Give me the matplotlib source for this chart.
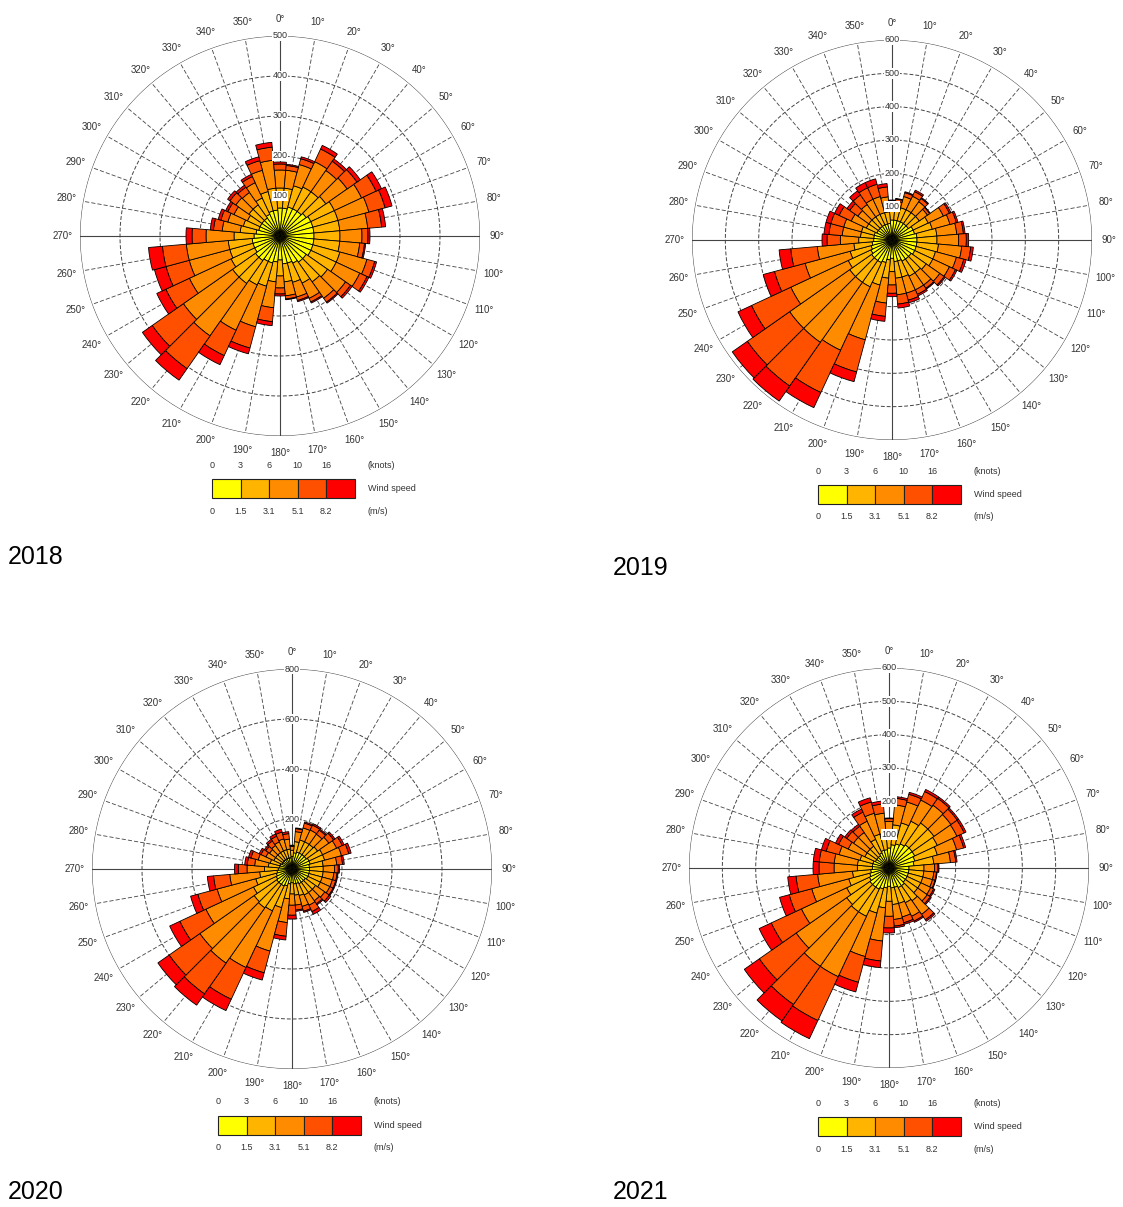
import numpy as np
import matplotlib.pyplot as plt
from matplotlib.patches import Rectangle

plt.rcParams['font.family'] = ['Liberation Sans', 'DejaVu Sans']

W, H = 1123, 1207

# wind direction bins (deg, clockwise from north)
directions = np.arange(0, 360, 10)

speed_colors = ['#FFFF00', '#FFB400', '#FF8C00', '#FF5000', '#FF0000']
knots_labels = ['0', '3', '6', '10', '16']
ms_labels = ['0', '1.5', '3.1', '5.1', '8.2']

# counts per direction, speed class 1 (calm) .. 5 (strongest)
y2018_c1 = [70, 70, 75, 75, 75, 80, 85, 85, 85, 85, 85, 85, 85, 80, 80, 75, 70, 70,
            60, 65, 70, 70, 75, 75, 70, 70, 70, 65, 60, 55, 55, 55, 55, 60, 65, 65]
y2018_c2 = [50, 50, 55, 60, 60, 60, 65, 65, 65, 65, 65, 70, 70, 65, 60, 55, 50, 45,
            40, 50, 60, 65, 70, 70, 65, 60, 60, 50, 40, 40, 35, 40, 40, 45, 50, 55]
y2018_c3 = [45, 45, 55, 70, 65, 65, 75, 80, 70, 55, 50, 70, 65, 55, 50, 42, 38, 35,
            30, 65, 105, 125, 160, 150, 115, 105, 105, 70, 45, 40, 37, 40, 38, 42, 55, 70]
y2018_c4 = [15, 12, 15, 35, 28, 30, 40, 42, 35, 15, 12, 20, 20, 15, 12, 10, 9, 8,
            15, 35, 55, 70, 100, 95, 65, 60, 60, 35, 22, 18, 17, 18, 16, 17, 25, 33]
y2018_c5 = [5, 3, 5, 10, 7, 10, 15, 18, 10, 5, 3, 5, 5, 5, 3, 3, 3, 2,
            5, 10, 15, 25, 35, 30, 25, 30, 35, 15, 8, 7, 6, 7, 6, 6, 10, 12]

y2019_c1 = [60, 60, 60, 60, 60, 60, 70, 70, 75, 75, 75, 75, 75, 70, 70, 70, 65, 65,
            55, 60, 70, 75, 75, 75, 70, 65, 60, 55, 55, 55, 50, 50, 50, 50, 50, 50]
y2019_c2 = [35, 35, 40, 40, 40, 40, 50, 55, 60, 60, 65, 60, 60, 55, 50, 50, 50, 50,
            40, 55, 70, 80, 80, 80, 75, 65, 55, 45, 40, 40, 35, 35, 35, 35, 35, 35]
y2019_c3 = [18, 22, 35, 45, 40, 30, 50, 55, 60, 65, 70, 65, 55, 50, 45, 45, 50, 50,
            40, 75, 170, 210, 220, 220, 190, 140, 110, 55, 55, 55, 50, 40, 45, 50, 50, 45]
y2019_c4 = [5, 6, 12, 15, 12, 8, 20, 20, 20, 23, 27, 23, 20, 16, 12, 15, 22, 28,
            25, 40, 100, 140, 160, 155, 130, 95, 80, 40, 40, 40, 40, 30, 35, 38, 38, 30]
y2019_c5 = [2, 2, 3, 5, 3, 2, 5, 5, 5, 7, 8, 7, 5, 4, 3, 5, 8, 12,
            10, 15, 30, 50, 55, 55, 45, 35, 35, 15, 15, 15, 15, 10, 15, 17, 17, 10]

y2020_c1 = [50, 65, 70, 70, 70, 70, 75, 75, 70, 70, 70, 70, 70, 65, 65, 65, 60, 60,
            55, 60, 70, 75, 75, 75, 70, 65, 60, 55, 50, 50, 45, 45, 45, 45, 45, 45]
y2020_c2 = [25, 45, 50, 50, 50, 55, 60, 60, 55, 55, 55, 55, 55, 50, 50, 50, 50, 45,
            45, 60, 90, 110, 115, 110, 100, 85, 70, 55, 45, 40, 35, 35, 35, 35, 35, 35]
y2020_c3 = [15, 40, 50, 52, 50, 55, 62, 70, 55, 45, 43, 42, 42, 45, 40, 45, 45, 40,
            45, 95, 180, 250, 270, 265, 210, 160, 120, 70, 55, 50, 35, 30, 35, 40, 45, 40]
y2020_c4 = [4, 12, 20, 22, 20, 23, 25, 30, 23, 15, 13, 14, 14, 22, 15, 28, 20, 20,
            40, 55, 90, 140, 150, 150, 115, 80, 65, 35, 30, 30, 22, 18, 22, 25, 28, 22]
y2020_c5 = [1, 3, 5, 6, 5, 7, 8, 10, 7, 5, 4, 4, 4, 8, 5, 12, 5, 5,
            15, 15, 30, 50, 55, 55, 45, 30, 25, 15, 10, 10, 8, 7, 8, 10, 12, 8]

y2021_c1 = [60, 70, 75, 80, 85, 85, 85, 80, 75, 60, 60, 60, 60, 60, 65, 65, 60, 60,
            55, 60, 65, 70, 70, 70, 65, 60, 55, 50, 50, 50, 45, 45, 45, 50, 55, 55]
y2021_c2 = [45, 60, 65, 75, 80, 80, 75, 70, 60, 45, 45, 45, 45, 45, 55, 50, 50, 50,
            45, 60, 75, 90, 90, 85, 75, 65, 55, 45, 45, 40, 35, 35, 35, 45, 50, 50]
y2021_c3 = [35, 60, 65, 70, 65, 62, 65, 60, 50, 32, 30, 30, 33, 35, 50, 45, 42, 45,
            45, 100, 135, 200, 200, 185, 150, 115, 105, 70, 70, 65, 55, 50, 50, 60, 65, 60]
y2021_c4 = [8, 20, 24, 28, 25, 23, 24, 22, 16, 10, 8, 8, 10, 11, 20, 16, 18, 20,
            35, 60, 80, 145, 140, 135, 100, 70, 65, 45, 45, 40, 32, 25, 23, 30, 35, 28]
y2021_c5 = [2, 5, 6, 7, 5, 5, 6, 6, 4, 3, 2, 2, 4, 4, 5, 4, 5, 5,
            15, 20, 30, 60, 60, 55, 40, 30, 25, 18, 18, 15, 10, 7, 7, 10, 13, 9]

years = ['2018', '2019', '2020', '2021']
year_classes = [
    [y2018_c1, y2018_c2, y2018_c3, y2018_c4, y2018_c5],
    [y2019_c1, y2019_c2, y2019_c3, y2019_c4, y2019_c5],
    [y2020_c1, y2020_c2, y2020_c3, y2020_c4, y2020_c5],
    [y2021_c1, y2021_c2, y2021_c3, y2021_c4, y2021_c5],
]
radial_max = [500, 600, 800, 600]
radial_step = [100, 100, 200, 100]

# layout in pixels: rose centre, legend bar left/top, year label position
rose_centres = [(280, 236), (892, 240), (292, 869), (889, 868)]
legend_pos = [(212, 479), (818, 485), (218, 1116), (818, 1117)]
year_pos = [(8, 557), (613, 568), (8, 1192), (613, 1192)]
R = 200


def fx(x):
    return x / W


def fy(y):
    return 1 - y / H


fig = plt.figure(figsize=(W / 100, H / 100), dpi=100)

for i, year in enumerate(years):
    cx, cy = rose_centres[i]
    rmax = radial_max[i]
    ax = fig.add_axes([fx(cx - R), fy(cy + R), 2 * R / W, 2 * R / H],
                      projection='polar')
    ax.set_theta_zero_location('N')
    ax.set_theta_direction(-1)
    ax.set_ylim(0, rmax)
    ax.set_axis_off()

    # grid: circles + spokes
    th = np.linspace(0, 2 * np.pi, 400)
    for r in np.arange(radial_step[i], rmax + 1, radial_step[i]):
        ls = '-' if r == rmax else (0, (4, 2))
        ax.plot(th, np.full_like(th, r), color='#444444', lw=0.7, ls=ls, zorder=1)
    for d in directions:
        t = np.radians(d)
        if d % 90 == 0:
            ax.plot([t, t], [0, rmax], color='#444444', lw=0.8, zorder=1)
        else:
            ax.plot([t, t], [0, rmax], color='#444444', lw=0.6, ls=(0, (5, 2.5)), zorder=1)
        ax.text(t, rmax * 1.085, f'{d}°', ha='center', va='center',
                fontsize=7, color='#333333')

    # stacked speed classes
    bottom = np.zeros(len(directions))
    for vals, col in zip(year_classes[i], speed_colors):
        vals = np.array(vals, dtype=float)
        ax.bar(np.radians(directions), vals, width=np.radians(10), bottom=bottom,
               color=col, edgecolor='black', linewidth=0.6, zorder=2)
        bottom += vals

    for r in np.arange(radial_step[i], rmax + 1, radial_step[i]):
        ax.text(0, r, str(r), ha='center', va='center', fontsize=6.5, color='#333333',
                bbox=dict(fc='white', ec='none', pad=0.6), zorder=5)

    # legend bar
    lx, ly = legend_pos[i]
    bw, bh = 28.5, 19
    for k, col in enumerate(speed_colors):
        fig.patches.append(Rectangle((fx(lx + k * bw), fy(ly + bh)), bw / W, bh / H,
                                     transform=fig.transFigure, facecolor=col,
                                     edgecolor='#222222', linewidth=0.8))
        fig.text(fx(lx + k * bw), fy(ly - 14), knots_labels[k], ha='center',
                 va='center', fontsize=6.5, color='#333333')
        fig.text(fx(lx + k * bw), fy(ly + bh + 13), ms_labels[k], ha='center',
                 va='center', fontsize=6.5, color='#333333')
    fig.text(fx(lx + 5 * bw + 13), fy(ly - 14), '(knots)', ha='left', va='center',
             fontsize=6.5, color='#333333')
    fig.text(fx(lx + 5 * bw + 13), fy(ly + bh + 13), '(m/s)', ha='left', va='center',
             fontsize=6.5, color='#333333')
    fig.text(fx(lx + 5 * bw + 13), fy(ly + bh / 2), 'Wind speed', ha='left', va='center',
             fontsize=6.5, color='#333333')

    yx, yy = year_pos[i]
    fig.text(fx(yx), fy(yy), year, ha='left', va='center', fontsize=18, color='black')

fig.savefig('out.png', dpi=100)
